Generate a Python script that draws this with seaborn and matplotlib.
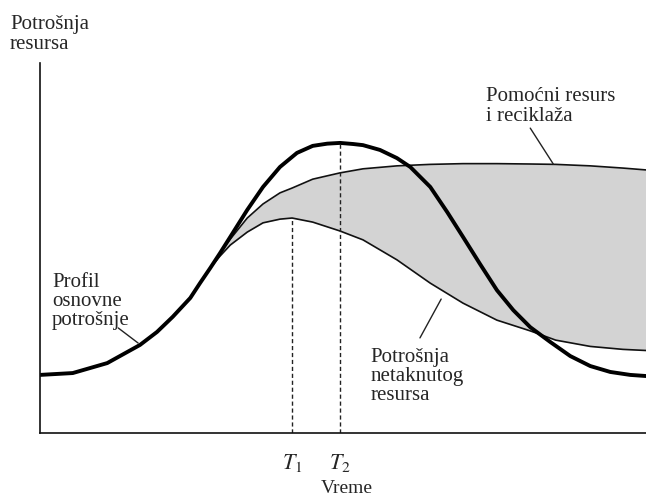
import matplotlib
matplotlib.use("Agg")
import matplotlib.pyplot as plt
import seaborn as sns

# podaci očitani sa slike (vreme 0-100, potrošnja 0-100)
x_osnovna = [0, 5.4, 11.1, 16.5, 19.3, 21.9, 24.8, 26.4, 28.1, 29.7, 31.4, 34.2,
             36.8, 39.6, 42.4, 45.0, 47.4, 49.5, 51.7, 53.3, 56.1, 58.9, 61.1,
             64.4, 67.2, 69.8, 72.6, 75.4, 78.1, 80.9, 84.2, 87.5, 90.8, 94.1,
             97.4, 100]
y_osnovna = [15.7, 16.2, 18.9, 23.8, 27.3, 31.4, 36.5, 40.5, 44.6, 48.6, 53.0,
             60.3, 66.5, 71.9, 75.7, 77.6, 78.2, 78.4, 78.1, 77.8, 76.5, 74.3,
             71.9, 66.5, 59.7, 53.0, 45.7, 38.6, 33.2, 28.6, 24.6, 20.8, 18.1,
             16.5, 15.7, 15.4]

x_tanke = [26.4, 28.1, 29.7, 31.4, 34.2, 36.8, 39.6, 41.6, 45.0, 49.5, 53.3,
           58.9, 64.4, 69.8, 75.4, 80.9, 85.1, 90.8, 96.2, 100]
y_pomocni = [40.5, 44.6, 48.6, 52.4, 58.1, 61.9, 64.9, 66.2, 68.6, 70.3, 71.4,
             72.2, 72.6, 72.8, 72.8, 72.7, 72.6, 72.2, 71.6, 71.1]
y_netaknuti = [40.5, 44.6, 47.8, 50.8, 54.3, 56.8, 57.8, 58.1, 57.0, 54.6, 52.2,
               46.8, 40.5, 35.1, 30.5, 27.6, 25.1, 23.4, 22.6, 22.3]

t_oznake = ["$T_1$", "$T_2$"]
t_vrednosti = [41.6, 49.5]

sns.set_style("white")
plt.rcParams["font.family"] = ["Liberation Serif", "DejaVu Serif"]
plt.rcParams["mathtext.fontset"] = "stix"

fig = plt.figure(figsize=(6.46, 5.0), dpi=100)
ax = fig.add_axes([40 / 646, 67 / 500, 1 - 40 / 646, 370 / 500])

ax.fill_between(x_tanke, y_netaknuti, y_pomocni, color="#d3d3d3", linewidth=0)
sns.lineplot(x=x_tanke, y=y_pomocni, color="#111111", linewidth=1.2,
             solid_joinstyle="round", ax=ax)
sns.lineplot(x=x_tanke, y=y_netaknuti, color="#111111", linewidth=1.2,
             solid_joinstyle="round", ax=ax)
sns.lineplot(x=x_osnovna, y=y_osnovna, color="#000000", linewidth=2.8,
             solid_joinstyle="round", ax=ax)

# isprekidane linije za T1 i T2
ax.vlines(t_vrednosti[0], 0, max(y_netaknuti), colors="#222222", linestyles=(0, (3, 2)), linewidth=1)
ax.vlines(t_vrednosti[1], 0, max(y_osnovna), colors="#222222", linestyles=(0, (3, 2)), linewidth=1)

ax.set_xlim(0, 100)
ax.set_ylim(0, 100)
ax.set_xticks([])
ax.set_yticks([])
sns.despine(ax=ax)
for s in ["left", "bottom"]:
    ax.spines[s].set_color("#111111")
    ax.spines[s].set_linewidth(1.2)

fs = 15
for lab, t in zip(t_oznake, t_vrednosti):
    ax.text(t, -8.0, lab, ha="center", va="center", fontsize=16, clip_on=False)
ax.text(50.7, -14.9, "Vreme", ha="center", va="center", fontsize=14, clip_on=False)

ax.text(-4.95, 113.0, "Potrošnja\nresursa", ha="left", va="top", fontsize=fs,
        linespacing=1.05, clip_on=False)
ax.text(73.6, 93.5, "Pomoćni resurs\ni reciklaža", ha="left", va="top", fontsize=fs,
        linespacing=1.05)
ax.text(2.0, 43.2, "Profil\nosnovne\npotrošnje", ha="left", va="top", fontsize=fs,
        linespacing=1.0)
ax.text(54.5, 23.0, "Potrošnja\nnetaknutog\nresursa", ha="left", va="top", fontsize=fs,
        linespacing=1.0)

lid = dict(arrowstyle="-", color="#222222", linewidth=1, shrinkA=0, shrinkB=0)
ax.annotate("", xy=(84.7, 72.7), xytext=(80.9, 82.4), arrowprops=lid)
ax.annotate("", xy=(16.2, 24.3), xytext=(12.9, 28.4), arrowprops=lid)
ax.annotate("", xy=(66.2, 36.2), xytext=(62.7, 25.7), arrowprops=lid)

fig.savefig("out.png", dpi=100)
